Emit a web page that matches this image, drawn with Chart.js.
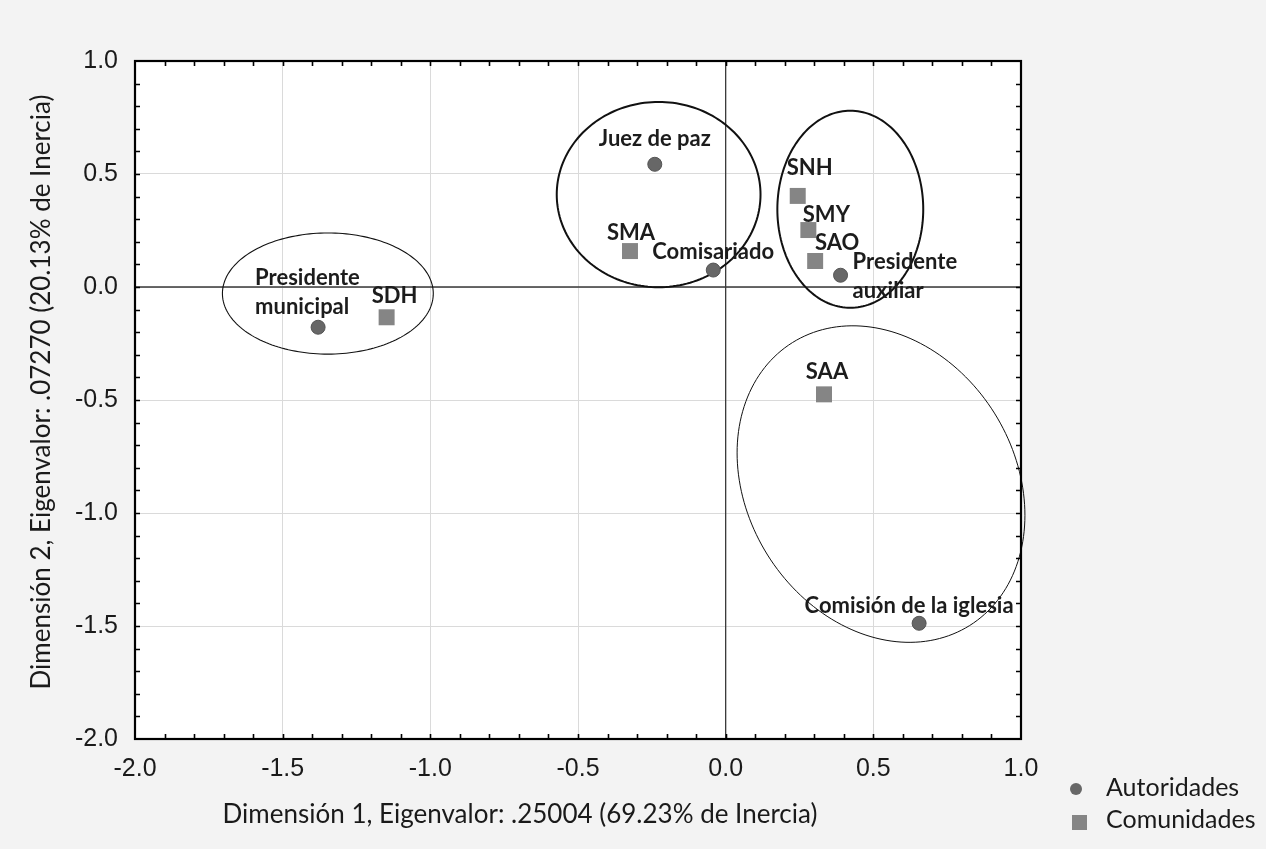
<!DOCTYPE html>
<html>
<head>
<meta charset="utf-8">
<script src="https://cdn.jsdelivr.net/npm/chart.js@4.4.1/dist/chart.umd.min.js"></script>
<style>
  html, body { margin: 0; padding: 0; background: #f3f3f3; }
  #wrap { width: 1266px; height: 849px; position: relative; }
</style>
</head>
<body>
<div id="wrap"><canvas id="c" width="1266" height="849"></canvas></div>
<script>
// ---- Data ----
const autoridadesLabels = ['Juez de paz', 'Comisariado', 'Presidente auxiliar', 'Presidente municipal', 'Comisión de la iglesia'];
const autoridadesX = [-0.240, -0.042, 0.389, -1.380, 0.655];
const autoridadesY = [0.543, 0.075, 0.052, -0.178, -1.488];

const comunidadesLabels = ['SMA', 'SNH', 'SMY', 'SAO', 'SDH', 'SAA'];
const comunidadesX = [-0.324, 0.244, 0.280, 0.303, -1.148, 0.333];
const comunidadesY = [0.159, 0.403, 0.252, 0.115, -0.134, -0.475];

const seriesNames = ['Autoridades', 'Comunidades'];
const xTitle = 'Dimensión 1, Eigenvalor: .25004 (69.23% de Inercia)';
const yTitle = 'Dimensión 2, Eigenvalor: .07270 (20.13% de Inercia)';
const xMin = -2, xMax = 1, yMin = -2, yMax = 1, tickStep = 0.5, minorStep = 0.1;

// Group ellipses in data units: center, two conjugate semi-axis vectors
const ellipseCX = [-1.347, -0.227, 0.422, 0.526];
const ellipseCY = [-0.029, 0.409, 0.344, -0.872];
const ellipseUX = [0.357, 0.345, 0.247, 0.300];
const ellipseUY = [0, 0, 0, -0.626];
const ellipseVX = [0, 0, 0, -0.384];
const ellipseVY = [0.268, 0.410, 0.436, -0.314];

// ---- Styles / label placement (pixels, kept separate from data) ----
const ellipseWidths = [1.1, 2.0, 2.0, 1.0];
const autLabelOffsets = [[0, -25, 'center'], [-61, -18, 'left'], [12, -13, 'left'], [-63, -49, 'left'], [-10, -17, 'center']];
const comLabelOffsets = [[1, -18, 'center'], [12, -28, 'center'], [18, -15, 'center'], [22, -18, 'center'], [8, -21, 'center'], [3, -22, 'center']];
const labelLineGap = 28.5;
const LABEL_FONT = 'bold 22px Lato';
const CIRCLE_COLOR = '#676767';
const SQUARE_COLOR = '#858585';

const autData = autoridadesX.map((x, i) => ({ x, y: autoridadesY[i] }));
const comData = comunidadesX.map((x, i) => ({ x, y: comunidadesY[i] }));

const framePlugin = {
  id: 'frame',
  beforeDraw(chart) {
    const { ctx, chartArea: a } = chart;
    ctx.save();
    ctx.fillStyle = '#f3f3f3';
    ctx.fillRect(0, 0, chart.width, chart.height);
    ctx.fillStyle = '#ffffff';
    ctx.fillRect(a.left, a.top, a.right - a.left, a.bottom - a.top);
    ctx.restore();
  },
  beforeDatasetsDraw(chart) {
    const { ctx, chartArea: a, scales } = chart;
    const xs = scales.x, ys = scales.y;
    ctx.save();
    ctx.strokeStyle = '#3a3a3a';
    ctx.lineWidth = 1.3;
    const x0 = xs.getPixelForValue(0), y0 = ys.getPixelForValue(0);
    ctx.beginPath();
    ctx.moveTo(x0, a.top); ctx.lineTo(x0, a.bottom);
    ctx.moveTo(a.left, y0); ctx.lineTo(a.right, y0);
    ctx.stroke();
    ctx.strokeStyle = '#111';
    for (let k = 0; k < ellipseCX.length; k++) {
      ctx.lineWidth = ellipseWidths[k];
      ctx.beginPath();
      const N = 180;
      for (let j = 0; j <= N; j++) {
        const t = j / N * Math.PI * 2;
        const vx = ellipseCX[k] + ellipseUX[k] * Math.cos(t) + ellipseVX[k] * Math.sin(t);
        const vy = ellipseCY[k] + ellipseUY[k] * Math.cos(t) + ellipseVY[k] * Math.sin(t);
        const px = xs.getPixelForValue(vx), py = ys.getPixelForValue(vy);
        if (j === 0) ctx.moveTo(px, py); else ctx.lineTo(px, py);
      }
      ctx.closePath();
      ctx.stroke();
    }
    ctx.restore();
  },
  afterDatasetsDraw(chart) {
    const { ctx, scales } = chart;
    const xs = scales.x, ys = scales.y;
    ctx.save();
    ctx.font = LABEL_FONT;
    ctx.fillStyle = '#1c1c1c';
    ctx.textBaseline = 'middle';
    const drawLabel = (text, px, py, off) => {
      ctx.textAlign = off[2];
      let lines = [text];
      if (text === 'Presidente auxiliar' || text === 'Presidente municipal') lines = text.split(' ');
      lines.forEach((ln, i) => ctx.fillText(ln, px + off[0], py + off[1] + i * labelLineGap));
    };
    autData.forEach((p, i) => drawLabel(autoridadesLabels[i], xs.getPixelForValue(p.x), ys.getPixelForValue(p.y), autLabelOffsets[i]));
    comData.forEach((p, i) => drawLabel(comunidadesLabels[i], xs.getPixelForValue(p.x), ys.getPixelForValue(p.y), comLabelOffsets[i]));
    ctx.restore();
  },
  afterDraw(chart) {
    const { ctx, chartArea: a, scales } = chart;
    const xs = scales.x, ys = scales.y;
    ctx.save();
    ctx.strokeStyle = '#000';
    ctx.lineWidth = 1.6;
    ctx.beginPath();
    const nx = Math.round((xMax - xMin) / minorStep);
    for (let i = 1; i < nx; i++) {
      const v = xMin + i * minorStep;
      const px = Math.round(xs.getPixelForValue(v)) + 0.5;
      ctx.moveTo(px, a.top); ctx.lineTo(px, a.top + 5);
      ctx.moveTo(px, a.bottom); ctx.lineTo(px, a.bottom - 5);
    }
    const ny = Math.round((yMax - yMin) / minorStep);
    for (let i = 1; i < ny; i++) {
      const v = yMin + i * minorStep;
      const py = Math.round(ys.getPixelForValue(v)) + 0.5;
      ctx.moveTo(a.left, py); ctx.lineTo(a.left + 5, py);
      ctx.moveTo(a.right, py); ctx.lineTo(a.right - 5, py);
    }
    ctx.stroke();
    ctx.lineWidth = 2.2;
    ctx.strokeStyle = '#000';
    ctx.strokeRect(a.left, a.top, a.right - a.left, a.bottom - a.top);
    // axis titles
    ctx.fillStyle = '#1a1a1a';
    ctx.font = '26px Lato';
    ctx.textAlign = 'center';
    ctx.textBaseline = 'middle';
    ctx.fillText(xTitle, 520, 815);
    ctx.save();
    ctx.translate(42, 392);
    ctx.rotate(-Math.PI / 2);
    ctx.fillText(yTitle, 0, 0);
    ctx.restore();
    // legend
    ctx.font = '25px Lato';
    ctx.textAlign = 'left';
    ctx.fillStyle = CIRCLE_COLOR;
    ctx.beginPath();
    ctx.arc(1076, 789, 6, 0, Math.PI * 2);
    ctx.fill();
    ctx.fillStyle = SQUARE_COLOR;
    ctx.fillRect(1072, 815, 15, 15);
    ctx.fillStyle = '#1a1a1a';
    ctx.fillText(seriesNames[0], 1106, 788);
    ctx.fillText(seriesNames[1], 1106, 820);
    ctx.restore();
  }
};

new Chart(document.getElementById('c'), {
  type: 'scatter',
  data: {
    datasets: [
      { label: seriesNames[0], data: autData, pointStyle: 'circle', pointRadius: 7, pointHoverRadius: 7,
        backgroundColor: CIRCLE_COLOR, borderColor: '#555', borderWidth: 1 },
      { label: seriesNames[1], data: comData, pointStyle: 'rect', pointRadius: 11.3, pointHoverRadius: 11.3,
        backgroundColor: SQUARE_COLOR, borderColor: SQUARE_COLOR, borderWidth: 0 }
    ]
  },
  options: {
    responsive: false,
    animation: false,
    devicePixelRatio: 1,
    events: [],
    layout: { padding: { left: 0, right: 245, top: 61, bottom: 0 } },
    plugins: { legend: { display: false }, tooltip: { enabled: false }, title: { display: false } },
    scales: {
      x: {
        type: 'linear', min: xMin, max: xMax,
        ticks: { stepSize: tickStep, callback: v => Number(v).toFixed(1), font: { family: 'Liberation Sans', size: 25 }, color: '#1a1a1a', padding: 15, maxRotation: 0 },
        grid: { color: '#dadada', lineWidth: 1, drawTicks: false },
        border: { display: false },
        afterFit: s => { s.height = 110; }
      },
      y: {
        type: 'linear', min: yMin, max: yMax,
        ticks: { stepSize: tickStep, callback: v => Number(v).toFixed(1), font: { family: 'Liberation Sans', size: 25 }, color: '#1a1a1a', padding: 17 },
        grid: { color: '#dadada', lineWidth: 1, drawTicks: false },
        border: { display: false },
        afterFit: s => { s.width = 135; }
      }
    }
  },
  plugins: [framePlugin]
});
</script>
</body>
</html>
